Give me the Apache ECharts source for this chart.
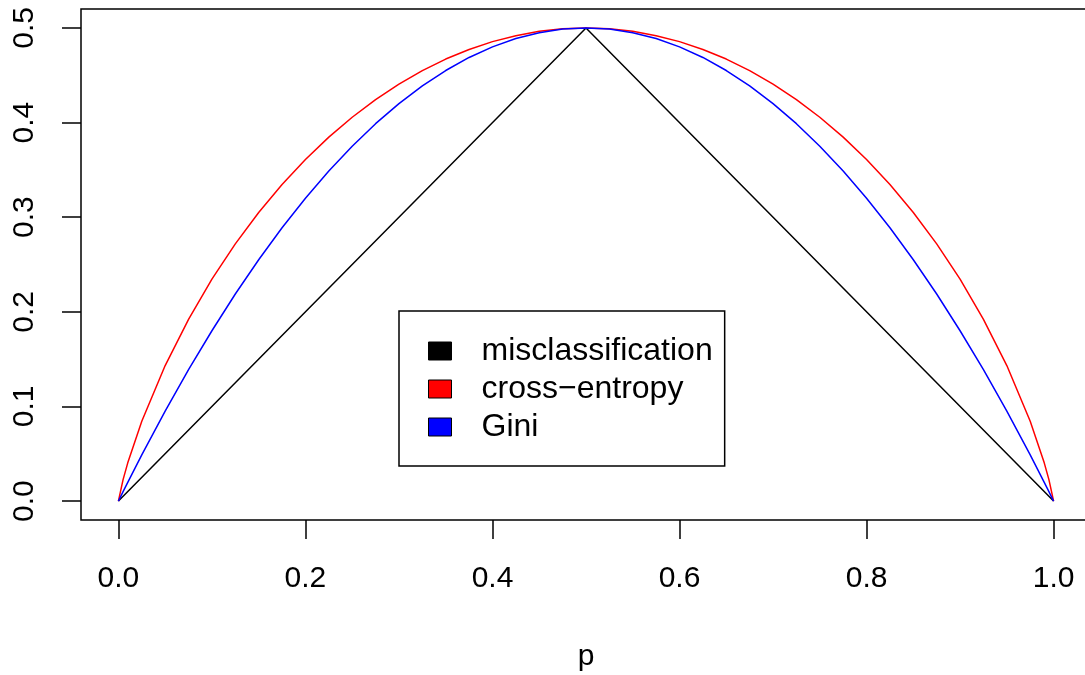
<!DOCTYPE html>
<html>
<head>
<meta charset="utf-8">
<script src="https://cdn.jsdelivr.net/npm/echarts@6/dist/echarts.min.js"></script>
<style>
  html, body { margin: 0; padding: 0; background: #fff; }
  #chart { width: 1085px; height: 675px; }
</style>
</head>
<body>
<div id="chart"></div>
<script>
// p grid for the two smooth curves (denser near the ends where they are steep)
const pValues = [0, 0.005, 0.01, 0.025, 0.05, 0.075, 0.1, 0.125, 0.15, 0.175, 0.2, 0.225, 0.25, 0.275,
  0.3, 0.325, 0.35, 0.375, 0.4, 0.425, 0.45, 0.475, 0.5,
  0.525, 0.55, 0.575, 0.6, 0.625, 0.65, 0.675, 0.7, 0.725, 0.75, 0.775, 0.8, 0.825,
  0.85, 0.875, 0.9, 0.925, 0.95, 0.975, 0.99, 0.995, 1];
const entropyValues = [0, 0.0227, 0.0404, 0.0843, 0.1432, 0.1921, 0.2345, 0.2718, 0.3049, 0.3345, 0.361, 0.3846, 0.4056, 0.4243,
  0.4406, 0.4549, 0.4671, 0.4772, 0.4855, 0.4918, 0.4964, 0.4991, 0.5,
  0.4991, 0.4964, 0.4918, 0.4855, 0.4772, 0.4671, 0.4549, 0.4406, 0.4243, 0.4056, 0.3846, 0.361, 0.3345,
  0.3049, 0.2718, 0.2345, 0.1921, 0.1432, 0.0843, 0.0404, 0.0227, 0];
const giniValues = [0, 0.00995, 0.0198, 0.0488, 0.095, 0.1388, 0.18, 0.2188, 0.255, 0.2888, 0.32, 0.3488, 0.375, 0.3988,
  0.42, 0.4388, 0.455, 0.4688, 0.48, 0.4888, 0.495, 0.4988, 0.5,
  0.4988, 0.495, 0.4888, 0.48, 0.4688, 0.455, 0.4388, 0.42, 0.3988, 0.375, 0.3488, 0.32, 0.2888,
  0.255, 0.2188, 0.18, 0.1388, 0.095, 0.0488, 0.0198, 0.00995, 0];
// misclassification is piecewise linear
const misP = [0, 0.5, 1];
const misValues = [0, 0.5, 0];

const xTicks = [0, 0.2, 0.4, 0.6, 0.8, 1.0];
const yTicks = [0, 0.1, 0.2, 0.3, 0.4, 0.5];

const FONT = 'Liberation Sans, Arial, Helvetica, sans-serif';
const pair = (xs, ys) => xs.map((x, i) => [x, ys[i]]);

const chart = echarts.init(document.getElementById('chart'));

// legend entries: filled boxes with black border, like R's fill legend
const legendItem = (name, color) => ({
  name,
  icon: 'rect',
  itemStyle: { color, borderColor: '#000', borderWidth: 1 },
});

chart.setOption({
  animation: false,
  backgroundColor: '#fff',
  textStyle: { fontFamily: FONT },
  grid: {
    left: 81,
    top: 9,
    width: 1010, // right edge runs past the canvas, as in the original
    height: 511,
    outerBoundsMode: 'none',
    show: true,
    borderColor: '#000',
    borderWidth: 1.5,
    backgroundColor: 'transparent',
  },
  legend: {
    orient: 'vertical',
    left: 399,
    top: 311,
    padding: [24, 12, 23, 29],
    itemWidth: 23,
    itemHeight: 18,
    itemGap: 6,
    borderColor: '#000',
    borderWidth: 1.5,
    backgroundColor: '#fff',
    selectedMode: false,
    textStyle: {
      fontFamily: FONT,
      fontSize: 32,
      color: '#000',
      padding: [0, 0, 0, 25],
    },
    data: [
      legendItem('misclassification', '#000'),
      legendItem('cross\u2212entropy', '#ff0000'),
      legendItem('Gini', '#0000ff'),
    ],
  },
  xAxis: {
    type: 'value',
    min: -0.04,
    max: 1.04,
    name: 'p',
    nameLocation: 'middle',
    nameGap: 122,
    nameTextStyle: { fontFamily: FONT, fontSize: 30, color: '#000' },
    axisLine: { show: false, onZero: false },
    splitLine: { show: false },
    axisTick: {
      show: true,
      inside: false,
      length: 19,
      customValues: xTicks,
      lineStyle: { color: '#000', width: 1.5 },
    },
    axisLabel: {
      customValues: xTicks,
      margin: 44,
      fontFamily: FONT,
      fontSize: 30,
      color: '#000',
      formatter: v => v.toFixed(1),
    },
  },
  yAxis: {
    type: 'value',
    min: -0.02,
    max: 0.52,
    axisLine: { show: false, onZero: false },
    splitLine: { show: false },
    axisTick: {
      show: true,
      inside: false,
      length: 19,
      customValues: yTicks,
      lineStyle: { color: '#000', width: 1.5 },
    },
    axisLabel: {
      customValues: yTicks,
      rotate: 90,
      margin: 41,
      fontFamily: FONT,
      fontSize: 30,
      color: '#000',
      formatter: v => v.toFixed(1),
    },
  },
  series: [
    {
      name: 'misclassification',
      type: 'line',
      data: pair(misP, misValues),
      symbol: 'none',
      color: '#000',
      lineStyle: { color: '#000', width: 1.5 },
    },
    {
      name: 'cross\u2212entropy',
      type: 'line',
      data: pair(pValues, entropyValues),
      symbol: 'none',
      color: '#ff0000',
      lineStyle: { color: '#ff0000', width: 1.5 },
    },
    {
      name: 'Gini',
      type: 'line',
      data: pair(pValues, giniValues),
      symbol: 'none',
      color: '#0000ff',
      lineStyle: { color: '#0000ff', width: 1.5 },
    },
  ],
});
</script>
</body>
</html>
